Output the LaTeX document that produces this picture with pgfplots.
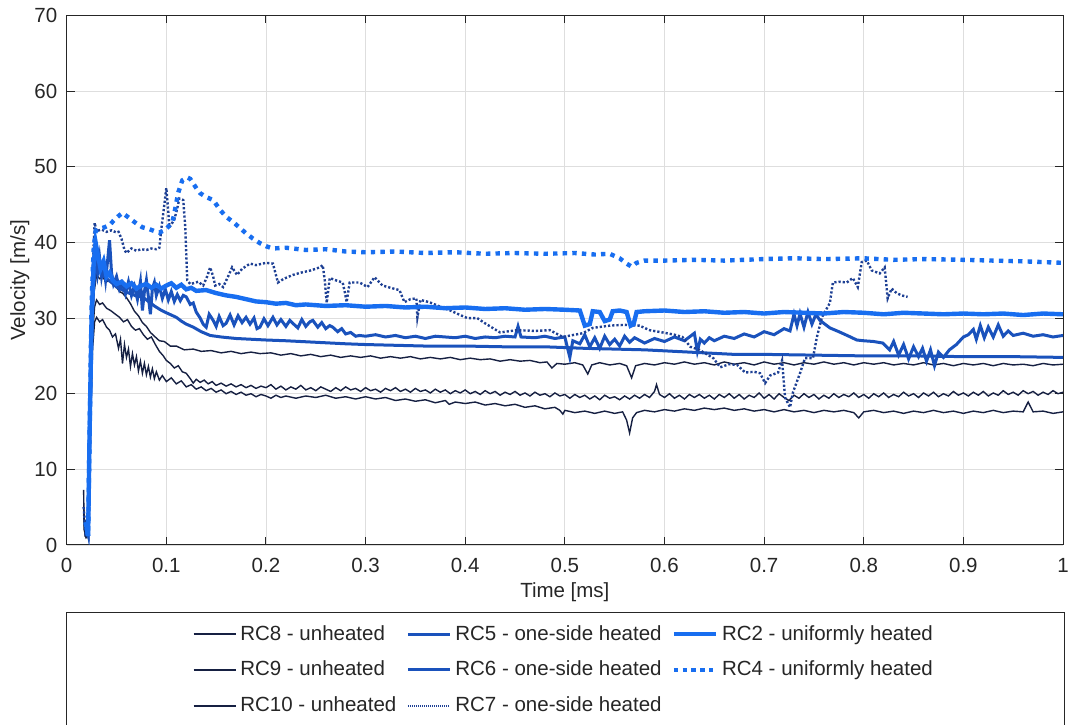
\documentclass[border=0pt]{standalone}
\usepackage{pgfplots}
\pgfplotsset{compat=1.18}
\usepackage{fontspec}
\setmainfont{Liberation Sans}
\definecolor{cUn}{RGB}{22,32,66}
\definecolor{cMid}{RGB}{26,82,188}
\definecolor{cBr}{RGB}{24,110,240}
\definecolor{cDot}{RGB}{30,64,148}
\definecolor{axc}{RGB}{38,38,38}
\begin{document}
\begin{tikzpicture}
\begin{axis}[
  scale only axis, width=498.15pt, height=264.75pt,
  xmin=0, xmax=1, ymin=0, ymax=70,
  xtick={0,0.1,...,1}, ytick={0,10,...,70},
  grid=major, major grid style={draw=black!13, line width=0.4pt},
  axis line style={draw=axc, line width=0.5pt},
  tick style={draw=axc, line width=0.5pt},
  tick align=inside, tick pos=both, major tick length=4pt,
  /pgf/number format/assume math mode=true,
  ticklabel style={font=\fontsize{10.25}{12}\selectfont, text=axc},
  xticklabel style={yshift=-3.2pt},
  yticklabel style={xshift=-1.2pt},
  xlabel={Time [ms]}, ylabel={Velocity [m/s]},
  label style={font=\fontsize{10.25}{12}\selectfont, text=axc},
  xlabel style={at={(axis description cs:0.5,-0.0888)}, anchor=center},
  ylabel style={at={(axis description cs:-0.047,0.5)}, anchor=center},
  legend columns=3,
  legend cell align=left,
  legend image code/.code={\draw[#1, line cap=butt] (0pt,0pt) -- (21pt,0pt);},
  legend style={draw=none, fill=none, at={(axis description cs:0.5,-0.236)}, anchor=center,
    font=\fontsize{10.25}{12}\selectfont, text=axc, row sep=5pt,
    /tikz/every even column/.append style={column sep=3pt}},
]
% RC8
\addplot[forget plot, cUn, line width=0.7pt] coordinates {(0.017,7.3)(0.0175,2)(0.019,1.2)(0.0215,3)(0.023,15)(0.025,28)(0.027,33)(0.03,35.7)(0.033,35.2)(0.036,35.4)(0.04,34.8)(0.043,35.0)(0.046,34.5)(0.05,34.1)(0.053,33.5)(0.056,33.3)(0.06,32.7)(0.064,31.9)(0.068,30.9)(0.072,30.3)(0.076,29.4)(0.08,28.9)(0.084,28.1)(0.088,27.6)(0.093,27.0)(0.098,26.9)(0.104,26.3)(0.11,26.3)(0.118,25.8)(0.127,25.9)(0.135,25.6)(0.145,25.7)(0.155,25.4)(0.165,25.6)(0.175,25.3)(0.185,25.5)(0.194,25.3)(0.205,25.4)(0.215,25.1)(0.225,25.3)(0.235,25.0)(0.245,25.2)(0.255,24.9)(0.265,25.1)(0.275,24.8)(0.285,25.0)(0.295,24.8)(0.305,25.0)(0.315,24.7)(0.325,24.9)(0.335,24.7)(0.345,24.9)(0.355,24.6)(0.365,24.8)(0.375,24.6)(0.385,24.8)(0.395,24.5)(0.405,24.7)(0.415,24.5)(0.425,24.6)(0.435,24.3)(0.445,24.5)(0.455,24.3)(0.465,24.4)(0.475,24.1)(0.482,24.2)(0.487,23.4)(0.492,24.0)(0.5,23.9)(0.51,24.1)(0.518,23.8)(0.523,22.6)(0.527,23.8)(0.535,24.1)(0.545,23.8)(0.555,24.0)(0.562,23.7)(0.567,22.1)(0.571,23.7)(0.58,24.0)(0.59,23.8)(0.6,24.1)(0.61,23.9)(0.62,24.2)(0.63,23.9)(0.64,24.1)(0.65,23.8)(0.66,24.2)(0.67,23.9)(0.68,24.1)(0.69,23.8)(0.7,24.2)(0.71,23.9)(0.72,24.1)(0.73,23.8)(0.74,24.1)(0.75,23.9)(0.76,24.2)(0.77,23.9)(0.78,24.1)(0.79,23.8)(0.8,24.1)(0.81,23.9)(0.82,24.1)(0.83,23.8)(0.84,24.0)(0.85,23.8)(0.86,24.1)(0.87,23.8)(0.88,24.0)(0.89,23.7)(0.9,24.0)(0.91,23.8)(0.92,24.0)(0.93,23.7)(0.94,24.0)(0.95,23.8)(0.96,23.9)(0.97,23.7)(0.98,24.0)(0.99,23.8)(1.0,23.9)};
% RC9
\addplot[forget plot, cUn, line width=0.7pt] coordinates {(0.017,5)(0.0185,1.5)(0.02,1.2)(0.0225,5)(0.024,18)(0.026,28)(0.028,31.5)(0.03,32.4)(0.033,31.8)(0.036,32.0)(0.04,31.3)(0.044,31.0)(0.048,30.6)(0.053,30.1)(0.057,29.5)(0.061,29.8)(0.065,28.9)(0.069,28.4)(0.073,28.6)(0.077,27.8)(0.081,27.2)(0.085,27.5)(0.089,26.5)(0.093,25.6)(0.097,25.0)(0.1,24.4)(0.104,24.0)(0.108,23.4)(0.112,23.7)(0.116,22.9)(0.12,22.7)(0.124,22.0)(0.127,21.4)(0.13,21.9)(0.134,21.5)(0.138,21.8)(0.142,21.3)(0.146,21.6)(0.15,21.1)(0.155,21.4)(0.16,21.0)(0.165,21.3)(0.17,20.9)(0.175,21.2)(0.18,20.8)(0.185,21.1)(0.19,20.7)(0.195,21.0)(0.200,20.8)(0.205,21.2)(0.210,20.6)(0.215,21.0)(0.220,20.5)(0.225,20.9)(0.230,20.6)(0.235,21.1)(0.240,20.5)(0.245,20.8)(0.250,20.4)(0.255,20.9)(0.260,20.6)(0.265,20.3)(0.270,20.8)(0.275,20.4)(0.280,20.9)(0.285,20.5)(0.290,20.7)(0.295,20.3)(0.300,20.8)(0.305,20.4)(0.310,20.6)(0.315,20.2)(0.320,20.7)(0.325,20.4)(0.330,20.8)(0.335,20.3)(0.340,20.6)(0.345,20.2)(0.350,20.7)(0.355,20.3)(0.360,20.5)(0.365,20.1)(0.370,20.6)(0.375,20.2)(0.380,20.5)(0.385,20.0)(0.390,20.4)(0.395,20.1)(0.400,20.5)(0.405,20.0)(0.410,20.3)(0.415,19.9)(0.420,20.4)(0.425,20.0)(0.430,20.3)(0.435,19.8)(0.440,20.2)(0.445,19.9)(0.450,20.3)(0.455,19.8)(0.460,20.1)(0.465,19.7)(0.470,20.2)(0.475,19.8)(0.480,20.0)(0.485,19.6)(0.490,20.1)(0.495,19.7)(0.500,19.9)(0.505,19.4)(0.510,19.9)(0.515,19.5)(0.520,19.8)(0.525,19.3)(0.530,19.7)(0.535,19.2)(0.540,19.8)(0.545,19.4)(0.550,19.6)(0.555,19.2)(0.560,19.7)(0.565,19.3)(0.570,19.8)(0.575,19.4)(0.580,19.9)(0.585,19.5)(0.590,20.3)(0.592,21.2)(0.595,19.9)(0.600,19.5)(0.605,20.0)(0.610,19.4)(0.615,19.8)(0.620,19.3)(0.625,19.9)(0.630,19.5)(0.635,19.9)(0.640,19.4)(0.645,19.8)(0.650,19.3)(0.655,19.9)(0.660,19.5)(0.665,20.0)(0.670,19.4)(0.675,19.9)(0.680,19.3)(0.685,19.8)(0.690,19.5)(0.695,20.1)(0.700,19.4)(0.705,19.9)(0.710,19.3)(0.715,20.0)(0.720,19.5)(0.725,19.1)(0.730,19.8)(0.735,19.4)(0.740,20.0)(0.745,19.5)(0.750,19.9)(0.755,19.3)(0.760,19.8)(0.765,19.4)(0.770,20.0)(0.775,19.5)(0.780,19.9)(0.785,19.6)(0.790,20.1)(0.795,19.5)(0.800,19.9)(0.805,19.4)(0.810,20.0)(0.815,19.6)(0.820,20.1)(0.825,19.5)(0.830,19.9)(0.835,19.6)(0.840,20.2)(0.845,19.7)(0.850,20.0)(0.855,19.5)(0.860,20.1)(0.865,19.7)(0.870,20.2)(0.875,19.6)(0.880,20.0)(0.885,19.7)(0.890,20.3)(0.895,19.8)(0.900,20.1)(0.905,19.7)(0.910,20.2)(0.915,19.8)(0.920,20.3)(0.925,19.7)(0.930,20.1)(0.935,19.8)(0.940,20.4)(0.945,19.9)(0.950,20.2)(0.955,19.8)(0.960,20.4)(0.965,20.0)(0.970,20.3)(0.975,19.8)(0.980,20.2)(0.985,19.9)(0.990,20.4)(0.995,20.0)(1.000,20.2)};
% RC10
\addplot[forget plot, cUn, line width=0.7pt] coordinates {(0.017,4)(0.0185,1.2)(0.02,1.0)(0.0225,4)(0.024,16)(0.026,26)(0.028,29.5)(0.03,30.1)(0.033,29.5)(0.036,29.8)(0.04,28.8)(0.043,28.4)(0.046,27.5)(0.049,27.9)(0.052,26.0)(0.054,27.2)(0.056,24.0)(0.058,26.5)(0.06,24.8)(0.062,25.9)(0.064,23.6)(0.066,25.3)(0.068,23.8)(0.07,24.9)(0.072,23.0)(0.074,24.3)(0.076,22.7)(0.078,24.0)(0.08,22.5)(0.082,23.6)(0.084,22.2)(0.086,23.3)(0.088,22.0)(0.09,22.9)(0.093,21.8)(0.096,22.4)(0.100,21.6)(0.105,22.1)(0.110,21.3)(0.115,21.7)(0.120,20.9)(0.125,21.2)(0.130,20.6)(0.135,20.9)(0.140,20.4)(0.145,20.7)(0.150,20.2)(0.155,20.5)(0.160,20.0)(0.165,20.3)(0.170,19.9)(0.175,20.2)(0.180,19.8)(0.185,20.0)(0.190,19.6)(0.195,19.9)(0.20,19.7)(0.205,19.4)(0.21,19.8)(0.215,19.5)(0.22,19.7)(0.23,19.4)(0.24,19.7)(0.25,19.5)(0.26,19.8)(0.27,19.4)(0.28,19.6)(0.29,19.3)(0.30,19.6)(0.31,19.3)(0.32,19.5)(0.33,19.1)(0.34,19.3)(0.35,19.0)(0.36,19.2)(0.37,18.8)(0.38,19.1)(0.384,18.6)(0.39,18.9)(0.40,18.7)(0.41,18.9)(0.42,18.5)(0.43,18.7)(0.44,18.4)(0.45,18.6)(0.46,18.2)(0.47,18.4)(0.48,18.0)(0.49,18.2)(0.495,17.8)(0.498,17.3)(0.50,17.8)(0.51,17.5)(0.52,17.7)(0.53,17.4)(0.54,17.7)(0.55,17.4)(0.558,17.6)(0.562,16.5)(0.565,14.8)(0.568,16.8)(0.572,17.5)(0.58,17.8)(0.59,17.6)(0.60,17.9)(0.61,17.7)(0.62,18.0)(0.63,17.8)(0.64,18.1)(0.65,17.9)(0.66,18.1)(0.67,17.8)(0.68,18.0)(0.69,17.7)(0.70,17.9)(0.71,17.6)(0.72,17.9)(0.73,17.6)(0.74,17.8)(0.75,17.5)(0.76,17.8)(0.77,17.6)(0.78,17.8)(0.79,17.5)(0.795,16.8)(0.80,17.6)(0.81,17.8)(0.82,17.5)(0.83,17.7)(0.84,17.4)(0.85,17.7)(0.86,17.5)(0.87,17.8)(0.88,17.5)(0.89,17.7)(0.90,17.4)(0.91,17.7)(0.92,17.5)(0.93,17.8)(0.94,17.5)(0.95,17.7)(0.96,17.6)(0.965,18.9)(0.97,17.6)(0.98,17.7)(0.99,17.4)(1.00,17.6)};
% RC5
\addplot[forget plot, cMid, line width=1.5pt] coordinates {(0.019,3)(0.0215,1.5)(0.023,14)(0.025,28)(0.027,35)(0.029,38.5)(0.031,36)(0.033,38)(0.035,35.5)(0.037,37)(0.039,35)(0.041,37.5)(0.043,40.3)(0.045,36)(0.047,34.5)(0.05,35.5)(0.053,33.8)(0.056,34.6)(0.059,33.2)(0.062,34.8)(0.065,33.0)(0.068,34.2)(0.071,32.5)(0.074,34.8)(0.076,31.0)(0.078,33.5)(0.08,35.0)(0.082,32.8)(0.084,30.5)(0.086,33.9)(0.088,34.7)(0.09,33.0)(0.093,34.2)(0.096,32.6)(0.099,33.8)(0.102,32.4)(0.105,33.5)(0.108,32.2)(0.111,33.1)(0.114,32.3)(0.117,33.0)(0.12,32.8)(0.124,31.8)(0.127,32.0)(0.13,30.8)(0.134,30.0)(0.137,29.2)(0.14,28.8)(0.143,30.5)(0.147,29.7)(0.15,28.9)(0.153,30.2)(0.157,29.0)(0.16,29.3)(0.164,30.4)(0.168,29.1)(0.172,30.3)(0.176,29.4)(0.18,30.1)(0.184,29.2)(0.188,30.0)(0.191,28.6)(0.194,28.8)(0.198,29.9)(0.202,29.0)(0.207,30.1)(0.211,29.1)(0.215,29.8)(0.22,28.9)(0.224,29.7)(0.227,29.3)(0.232,28.7)(0.236,29.8)(0.24,28.9)(0.244,29.5)(0.247,29.7)(0.252,28.8)(0.256,29.4)(0.26,28.6)(0.264,29.0)(0.267,28.8)(0.272,28.2)(0.276,28.6)(0.28,27.9)(0.285,28.1)(0.29,27.6)(0.294,27.7)(0.3,27.6)(0.31,27.8)(0.32,27.5)(0.33,27.7)(0.34,27.4)(0.35,27.6)(0.36,27.3)(0.37,27.6)(0.38,27.5)(0.39,27.4)(0.4,27.6)(0.41,27.3)(0.42,27.5)(0.43,27.4)(0.44,27.6)(0.45,27.5)(0.453,28.9)(0.456,27.5)(0.47,27.4)(0.48,27.6)(0.49,27.3)(0.5,27.5)(0.505,24.8)(0.508,27.0)(0.515,26.6)(0.52,27.8)(0.525,26.2)(0.53,27.4)(0.535,26.0)(0.54,27.6)(0.545,26.5)(0.55,27.2)(0.555,26.3)(0.56,27.6)(0.565,26.8)(0.57,27.4)(0.58,26.7)(0.59,27.3)(0.6,26.9)(0.61,27.5)(0.62,27.0)(0.625,27.5)(0.63,28.0)(0.633,25.6)(0.636,27.2)(0.64,26.7)(0.645,27.4)(0.65,27.0)(0.66,27.6)(0.67,27.3)(0.68,27.9)(0.69,27.5)(0.7,28.2)(0.71,27.8)(0.72,28.6)(0.726,28.3)(0.73,30.5)(0.733,29.0)(0.736,30.6)(0.74,28.8)(0.744,30.8)(0.748,29.2)(0.752,30.5)(0.756,29.7)(0.76,29.3)(0.766,28.7)(0.775,28.2)(0.785,27.6)(0.793,27.1)(0.8,27.0)(0.81,26.9)(0.819,26.7)(0.826,25.8)(0.83,26.9)(0.835,25.1)(0.84,26.5)(0.845,24.6)(0.85,26.2)(0.855,24.9)(0.859,26.0)(0.863,24.3)(0.867,25.8)(0.871,23.7)(0.875,25.5)(0.88,24.8)(0.886,25.8)(0.893,26.5)(0.9,27.5)(0.905,27.8)(0.91,28.5)(0.913,27.2)(0.917,29.0)(0.921,27.4)(0.925,28.8)(0.93,27.5)(0.935,29.1)(0.94,27.6)(0.945,28.3)(0.95,27.7)(0.96,28.0)(0.97,27.6)(0.98,27.8)(0.99,27.5)(1.0,27.7)};
% RC6
\addplot[forget plot, cMid, line width=1.5pt] coordinates {(0.019,3)(0.0215,1.5)(0.023,14)(0.025,28)(0.027,34)(0.029,37)(0.032,36.5)(0.035,35.8)(0.038,35.5)(0.042,35.0)(0.046,34.6)(0.05,34.1)(0.055,33.8)(0.06,33.4)(0.065,33.2)(0.07,32.9)(0.076,32.8)(0.082,32.2)(0.088,31.6)(0.094,31.1)(0.1,30.7)(0.105,30.4)(0.11,30.1)(0.115,29.6)(0.12,29.2)(0.127,28.8)(0.135,28.2)(0.144,27.7)(0.155,27.5)(0.17,27.3)(0.185,27.2)(0.2,27.1)(0.22,27.0)(0.25,26.8)(0.28,26.6)(0.3,26.5)(0.33,26.4)(0.36,26.3)(0.4,26.3)(0.44,26.2)(0.48,26.2)(0.5,26.1)(0.52,26.0)(0.55,25.9)(0.58,25.8)(0.61,25.6)(0.64,25.4)(0.67,25.2)(0.7,25.2)(0.75,25.1)(0.8,25.0)(0.85,25.0)(0.9,24.9)(0.95,24.9)(1.0,24.8)};
% RC7
\addplot[forget plot, cDot, line width=1.2pt, dash pattern=on 1.1pt off 1pt] coordinates {(0.017,5)(0.019,1.5)(0.022,2)(0.024,20)(0.026,36)(0.028,42.6)(0.03,41.5)(0.035,41.7)(0.04,41.4)(0.045,41.6)(0.05,41.3)(0.052,41.4)(0.055,40.5)(0.058,39)(0.06,38.6)(0.065,39.2)(0.07,38.9)(0.075,39.1)(0.08,39.0)(0.085,39.2)(0.09,39.1)(0.093,39.3)(0.095,41.8)(0.098,45)(0.1,47.2)(0.102,44)(0.103,42)(0.106,42.6)(0.108,43)(0.111,44.5)(0.113,45.8)(0.117,45.6)(0.119,42)(0.121,35)(0.124,34.5)(0.127,34.6)(0.132,34.8)(0.137,34.3)(0.141,35.5)(0.144,36.7)(0.147,35.5)(0.149,34.3)(0.153,34.5)(0.157,34.1)(0.162,35.5)(0.166,36.7)(0.171,35.7)(0.176,36.5)(0.184,37.2)(0.19,37.0)(0.2,37.3)(0.207,37.2)(0.212,34.7)(0.218,35.2)(0.227,35.7)(0.235,36.0)(0.245,36.3)(0.254,36.7)(0.257,37.0)(0.259,35)(0.261,32)(0.264,35.3)(0.27,35.0)(0.277,34.7)(0.279,33.5)(0.281,32.1)(0.284,34.7)(0.294,34.7)(0.302,34.1)(0.309,35.4)(0.317,34.3)(0.325,34.0)(0.334,33.7)(0.339,32.1)(0.345,32.5)(0.351,32.6)(0.352,30.1)(0.355,32.4)(0.364,32.1)(0.375,31.5)(0.385,31.0)(0.395,30.4)(0.402,30.0)(0.412,30.0)(0.42,29.3)(0.435,28.1)(0.452,28.4)(0.47,28.3)(0.485,28.4)(0.498,27.5)(0.518,28.0)(0.528,28.7)(0.545,29.0)(0.56,29.1)(0.575,29.0)(0.585,28.4)(0.598,28.1)(0.61,27.8)(0.618,27.5)(0.626,26.2)(0.635,25.8)(0.649,24.7)(0.656,23.5)(0.665,23.9)(0.673,23.8)(0.681,22.8)(0.69,22.9)(0.696,22.7)(0.701,21.4)(0.706,22.4)(0.714,22.8)(0.718,24.4)(0.721,19.5)(0.726,18.2)(0.729,20.2)(0.736,22.7)(0.741,24.7)(0.749,24.7)(0.753,27.5)(0.758,30.1)(0.766,32.0)(0.769,34.7)(0.776,34.8)(0.783,34.7)(0.789,35.3)(0.794,34.1)(0.798,37.4)(0.803,37.6)(0.808,36.3)(0.816,35.9)(0.821,36.7)(0.824,32.6)(0.828,33.9)(0.833,33.3)(0.838,33.0)(0.844,32.8)};
% RC2
\addplot[forget plot, cBr, line width=2.2pt] coordinates {(0.019,3)(0.0215,1.2)(0.023,15)(0.025,30)(0.027,37)(0.029,40)(0.031,38.5)(0.034,36.5)(0.037,37.5)(0.04,35.5)(0.043,36)(0.046,35)(0.05,34.5)(0.055,34.8)(0.06,34.2)(0.065,34.6)(0.07,33.9)(0.075,34.3)(0.08,34.5)(0.085,34.0)(0.09,34.4)(0.095,33.9)(0.1,34.3)(0.105,34.6)(0.11,34.0)(0.115,34.4)(0.12,33.8)(0.125,34.0)(0.13,33.6)(0.14,33.7)(0.15,33.3)(0.16,33.0)(0.17,32.8)(0.18,32.5)(0.19,32.2)(0.2,32.1)(0.21,31.9)(0.22,32.0)(0.23,31.7)(0.24,31.8)(0.26,31.6)(0.28,31.7)(0.3,31.5)(0.32,31.6)(0.34,31.4)(0.36,31.5)(0.38,31.3)(0.4,31.4)(0.42,31.2)(0.44,31.3)(0.46,31.1)(0.48,31.2)(0.5,31.1)(0.515,31.0)(0.52,29.0)(0.525,29.2)(0.528,30.9)(0.535,30.8)(0.54,29.6)(0.545,29.8)(0.548,30.9)(0.555,31.0)(0.562,30.8)(0.566,29.0)(0.569,29.2)(0.572,30.8)(0.58,30.9)(0.6,31.0)(0.62,30.8)(0.64,30.9)(0.66,30.7)(0.68,30.8)(0.7,30.6)(0.72,30.8)(0.74,30.7)(0.76,30.6)(0.78,30.8)(0.8,30.7)(0.82,30.5)(0.84,30.7)(0.86,30.6)(0.88,30.5)(0.9,30.6)(0.92,30.5)(0.94,30.6)(0.96,30.4)(0.98,30.6)(1.0,30.5)};
% RC4
\addplot[forget plot, cBr, line width=2.2pt, dash pattern=on 2.2pt off 2.6pt] coordinates {(0.019,3)(0.0215,1.2)(0.023,15)(0.025,32)(0.027,39)(0.029,41.5)(0.033,41.8)(0.038,42)(0.043,42.3)(0.048,43)(0.053,43.6)(0.056,43.9)(0.06,43.5)(0.065,43)(0.07,42.5)(0.076,42)(0.082,41.8)(0.088,41.5)(0.093,41.3)(0.098,41.6)(0.103,42.2)(0.106,42.6)(0.109,44.5)(0.112,46.6)(0.116,48.2)(0.121,48.6)(0.124,48.4)(0.127,47.8)(0.131,47)(0.134,46.5)(0.14,46)(0.147,45.6)(0.154,44.3)(0.16,43.4)(0.167,42.7)(0.174,41.9)(0.18,41.2)(0.187,40.5)(0.194,39.9)(0.2,39.5)(0.207,39.2)(0.22,39.3)(0.24,39.0)(0.26,39.1)(0.28,38.8)(0.3,38.7)(0.33,38.8)(0.36,38.6)(0.39,38.7)(0.42,38.5)(0.45,38.6)(0.48,38.5)(0.51,38.6)(0.53,38.4)(0.545,38.5)(0.555,37.9)(0.562,37.2)(0.567,36.8)(0.572,37.3)(0.58,37.6)(0.6,37.6)(0.63,37.7)(0.66,37.6)(0.7,37.8)(0.73,37.9)(0.76,37.8)(0.8,37.9)(0.83,37.7)(0.86,37.8)(0.9,37.7)(0.93,37.6)(0.96,37.5)(1.0,37.3)};
% legend, row-major order
\addlegendimage{cUn, line width=0.7pt}\addlegendentry{RC8 - unheated}
\addlegendimage{cMid, line width=1.5pt}\addlegendentry{RC5 - one-side heated}
\addlegendimage{cBr, line width=2.2pt}\addlegendentry{RC2 - uniformly heated}
\addlegendimage{cUn, line width=0.7pt}\addlegendentry{RC9 - unheated}
\addlegendimage{cMid, line width=1.5pt}\addlegendentry{RC6 - one-side heated}
\addlegendimage{cBr, line width=2.2pt, dash pattern=on 2.2pt off 2.2pt}\addlegendentry{RC4 - uniformly heated}
\addlegendimage{cUn, line width=0.7pt}\addlegendentry{RC10 - unheated}
\addlegendimage{cDot, line width=1pt, dash pattern=on 0.5pt off 0.5pt}\addlegendentry{RC7 - one-side heated}
\end{axis}
\draw[axc, line width=0.5pt] ([shift={(-0.3pt,-34pt)}]current axis.south west) rectangle ([shift={(0.5pt,-110pt)}]current axis.south east);
\pgfresetboundingbox
\path[use as bounding box] ([shift={(-33.35pt,-90pt)}]current axis.south west) rectangle ([shift={(3pt,7.75pt)}]current axis.north east);
\end{tikzpicture}
\end{document}
